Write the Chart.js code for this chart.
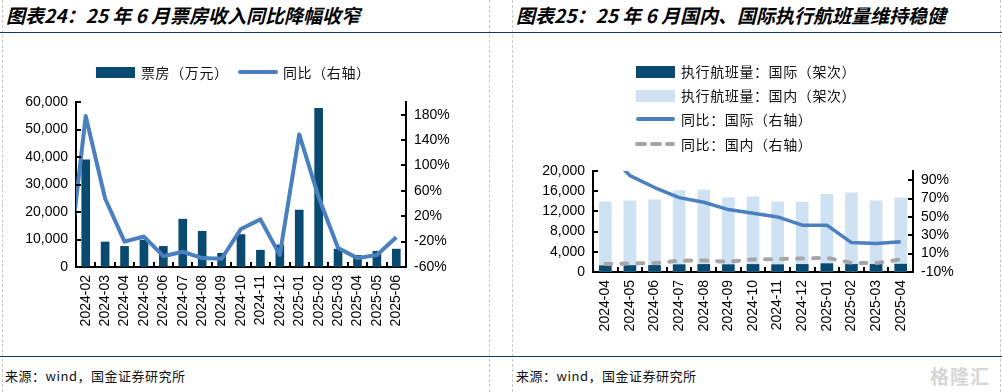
<!DOCTYPE html>
<html lang="zh">
<head>
<meta charset="UTF-8">
<title>票房与执行航班量</title>
<script src="https://cdn.jsdelivr.net/npm/chart.js@4"></script>
<style>
  body { margin: 0; width: 1002px; height: 392px; background: #fff; position: relative; overflow: hidden;
         font-family: "Noto Sans CJK SC", "Liberation Sans", sans-serif; }
  .abs { position: absolute; }
  .title { top: 1px; font-size: 19px; font-weight: 700; font-style: italic; color: #000; white-space: pre; }
  .rule { left: 0; width: 1002px; height: 0; border-top: 1.5px solid #0d3b5e; }
  .vdash { top: 0; height: 392px; width: 0; border-left: 1px dashed #c8c8c8; }
  .src { top: 366px; font-size: 13px; color: #111; white-space: nowrap; letter-spacing: 0.5px; }
  .lg { font-size: 14px; color: #111; white-space: nowrap; line-height: 16px; letter-spacing: 0.6px; }
  .sw { position: absolute; }
</style>
</head>
<body>
<div class="abs vdash" style="left:2px"></div>
<div class="abs vdash" style="left:489px"></div>
<div class="abs vdash" style="left:512px"></div>
<div class="abs vdash" style="left:1000px"></div>

<div class="abs title" style="left:6px">图表24：25 年 6 月票房收入同比降幅收窄</div>
<div class="abs title" style="left:516px">图表25：25 年 6 月国内、国际执行航班量维持稳健</div>
<div class="abs rule" style="top:32px"></div>
<div class="abs rule" style="top:356px"></div>
<div class="abs src" style="left:5px">来源：wind，国金证券研究所</div>
<div class="abs src" style="left:516px">来源：wind，国金证券研究所</div>
<div class="abs" style="left:930px;top:362px;font-size:19px;font-weight:700;color:#d6d6d6;letter-spacing:1px">格隆汇</div>

<canvas id="left" class="abs" style="left:0;top:0"></canvas>
<canvas id="right" class="abs" style="left:500px;top:0"></canvas>

<!-- legends -->
<div class="abs sw" style="left:96px;top:67px;width:39px;height:11px;background:#0A4A70"></div>
<div class="abs lg" style="left:141px;top:64px">票房（万元）</div>
<div class="abs sw" style="left:238px;top:70px;width:40px;height:4px;background:#4A80C0;border-radius:2px"></div>
<div class="abs lg" style="left:283px;top:64px">同比（右轴）</div>

<div class="abs sw" style="left:636px;top:66px;width:39px;height:12px;background:#0A4A70"></div>
<div class="abs lg" style="left:681px;top:63px">执行航班量：国际（架次）</div>
<div class="abs sw" style="left:636px;top:90px;width:39px;height:12px;background:#CFE2F3"></div>
<div class="abs lg" style="left:681px;top:87px">执行航班量：国内（架次）</div>
<div class="abs sw" style="left:636px;top:117px;width:39px;height:4px;background:#4A80C0;border-radius:2px"></div>
<div class="abs lg" style="left:681px;top:111px">同比：国际（右轴）</div>
<div class="abs sw" style="left:635px;top:142px;width:12px;height:4px;background:#A6A6A6;border-radius:2px"></div>
<div class="abs sw" style="left:650px;top:142px;width:12px;height:4px;background:#A6A6A6;border-radius:2px"></div>
<div class="abs sw" style="left:665px;top:142px;width:10px;height:4px;background:#A6A6A6;border-radius:2px"></div>
<div class="abs lg" style="left:681px;top:136px">同比：国内（右轴）</div>

<script>
// ---- chart 24: box office ----
const boxMonths = ['2024-01', '2024-02', '2024-03', '2024-04', '2024-05', '2024-06', '2024-07', '2024-08', '2024-09',
  '2024-10', '2024-11', '2024-12', '2025-01', '2025-02', '2025-03', '2025-04', '2025-05', '2025-06'];
const boxOffice = [null, 39000, 9100, 7500, 9800, 7500, 17400, 13000, 5000,
  11800, 6100, 8000, 20700, 57700, 6500, 4200, 5700, 6500];
const boxYoY = [-90, 178, 48, -20, -12, -43, -36, -46, -47,
  0, 15, -41, 149, 50, -30, -46, -41, -13];
const boxLeftTicks = [0, 10000, 20000, 30000, 40000, 50000, 60000];
const boxRightTicks = [-60, -20, 20, 60, 100, 140, 180];

// ---- chart 25: flights ----
const flightMonths = ['2024-04', '2024-05', '2024-06', '2024-07', '2024-08', '2024-09', '2024-10',
  '2024-11', '2024-12', '2025-01', '2025-02', '2025-03', '2025-04'];
const flightsIntl = [1250, 1280, 1300, 1450, 1500, 1450, 1500, 1450, 1500, 1650, 1500, 1500, 1550];
const flightsDom = [13900, 14100, 14300, 16100, 16250, 14700, 14900, 13900, 13850, 15400, 15700, 14100, 14700];
const yoyIntl = [122, 95, 82, 71, 66, 58, 54, 50, 41, 41, 22, 21, 23];
const yoyDom = [-1.4, -0.6, -0.3, 2.3, 2.6, 1.2, 3.7, 4, 4.8, 5.5, 0, -0.3, 3.7];
const flightLeftTicks = [0, 4000, 8000, 12000, 16000, 20000];
const flightRightTicks = [-10, 10, 30, 50, 70, 90];

const NAVY = '#0A4A70', BLUE = '#4A80C0', LIGHT = '#CFE2F3', GREY = '#A6A6A6';
const tickFont = { family: 'Liberation Sans, Arial, sans-serif', size: 14 };

// short tick marks pointing into the plot area
const innerTicks = {
  id: 'innerTicks',
  afterDraw(chart) {
    const { ctx, chartArea: a, scales } = chart;
    ctx.save();
    ctx.strokeStyle = '#000';
    ctx.lineWidth = 2;
    ctx.beginPath();
    ['y', 'y1'].forEach(id => {
      const s = scales[id];
      const left = s.position === 'left';
      const x0 = left ? a.left : a.right;
      s.ticks.forEach((t, i) => {
        const py = Math.round(s.getPixelForTick(i));
        ctx.moveTo(x0, py);
        ctx.lineTo(x0 + (left ? 5 : -5), py);
      });
    });
    const x = scales.x;
    for (let i = x.min; i <= x.max + 1; i++) {
      const px = Math.round(x.getPixelForValue(i - 0.5));
      ctx.moveTo(px, a.bottom);
      ctx.lineTo(px, a.bottom - 5);
    }
    ctx.stroke();
    ctx.restore();
  }
};

function yAxis(pos, min, max, ticks, width, fmt) {
  return {
    position: pos, min, max,
    grid: { display: true, drawOnChartArea: false, drawTicks: false },
    border: { display: true, color: '#000', width: 2 },
    ticks: { color: '#000', font: tickFont, padding: 8, callback: fmt },
    afterBuildTicks: s => { s.ticks = ticks.map(v => ({ value: v })); },
    afterFit: s => { s.width = width; }
  };
}

function xAxis(height, min) {
  return {
    min,
    grid: { display: true, drawOnChartArea: false, drawTicks: false, offset: true },
    border: { display: true, color: '#000', width: 2 },
    ticks: { color: '#000', font: tickFont, padding: 8, maxRotation: 90, minRotation: 90, autoSkip: false },
    afterFit: s => { s.height = height; }
  };
}

const base = {
  responsive: false,
  animation: false,
  plugins: { legend: { display: false }, tooltip: { enabled: false } },
};

const leftCanvas = document.getElementById('left');
leftCanvas.width = 500; leftCanvas.height = 345;
new Chart(leftCanvas, {
  type: 'bar',
  data: {
    labels: boxMonths,
    datasets: [
      { type: 'line', label: '同比（右轴）', data: boxYoY, yAxisID: 'y1', order: 0,
        borderColor: BLUE, borderWidth: 4, pointRadius: 0, tension: 0, borderJoinStyle: 'round' },
      { type: 'bar', label: '票房（万元）', data: boxOffice, yAxisID: 'y', order: 1,
        backgroundColor: NAVY, barThickness: 8 }
    ]
  },
  options: {
    ...base,
    layout: { padding: { top: 102, left: 0, right: 0, bottom: 0 } },
    scales: {
      x: xAxis(78, '2024-02'),
      y: yAxis('left', 0, 60000, boxLeftTicks, 76, v => v.toLocaleString('en-US')),
      y1: yAxis('right', -60, 200, boxRightTicks, 94, v => v + '%')
    }
  },
  plugins: [innerTicks]
});

const rightCanvas = document.getElementById('right');
rightCanvas.width = 502; rightCanvas.height = 345;
new Chart(rightCanvas, {
  type: 'bar',
  data: {
    labels: flightMonths,
    datasets: [
      { type: 'line', label: '同比：国际（右轴）', data: yoyIntl, yAxisID: 'y1', order: 0,
        borderColor: BLUE, borderWidth: 3.5, pointRadius: 0, tension: 0, borderJoinStyle: 'round' },
      { type: 'line', label: '同比：国内（右轴）', data: yoyDom, yAxisID: 'y1', order: 1,
        borderColor: GREY, borderWidth: 4, pointRadius: 0, tension: 0,
        borderDash: [6, 10], borderCapStyle: 'round' },
      { type: 'bar', label: '执行航班量：国际（架次）', data: flightsIntl, yAxisID: 'y', order: 2,
        backgroundColor: NAVY, barThickness: 12, grouped: false },
      { type: 'bar', label: '执行航班量：国内（架次）', data: flightsDom, yAxisID: 'y', order: 3,
        backgroundColor: LIGHT, barThickness: 12, grouped: false }
    ]
  },
  options: {
    ...base,
    layout: { padding: { top: 171, left: 0, right: 0, bottom: 0 } },
    scales: {
      x: xAxis(73, undefined),
      y: yAxis('left', 0, 20000, flightLeftTicks, 93, v => v.toLocaleString('en-US')),
      y1: yAxis('right', -10, 100, flightRightTicks, 89, v => v + '%')
    }
  },
  plugins: [innerTicks]
});
</script>
</body>
</html>
